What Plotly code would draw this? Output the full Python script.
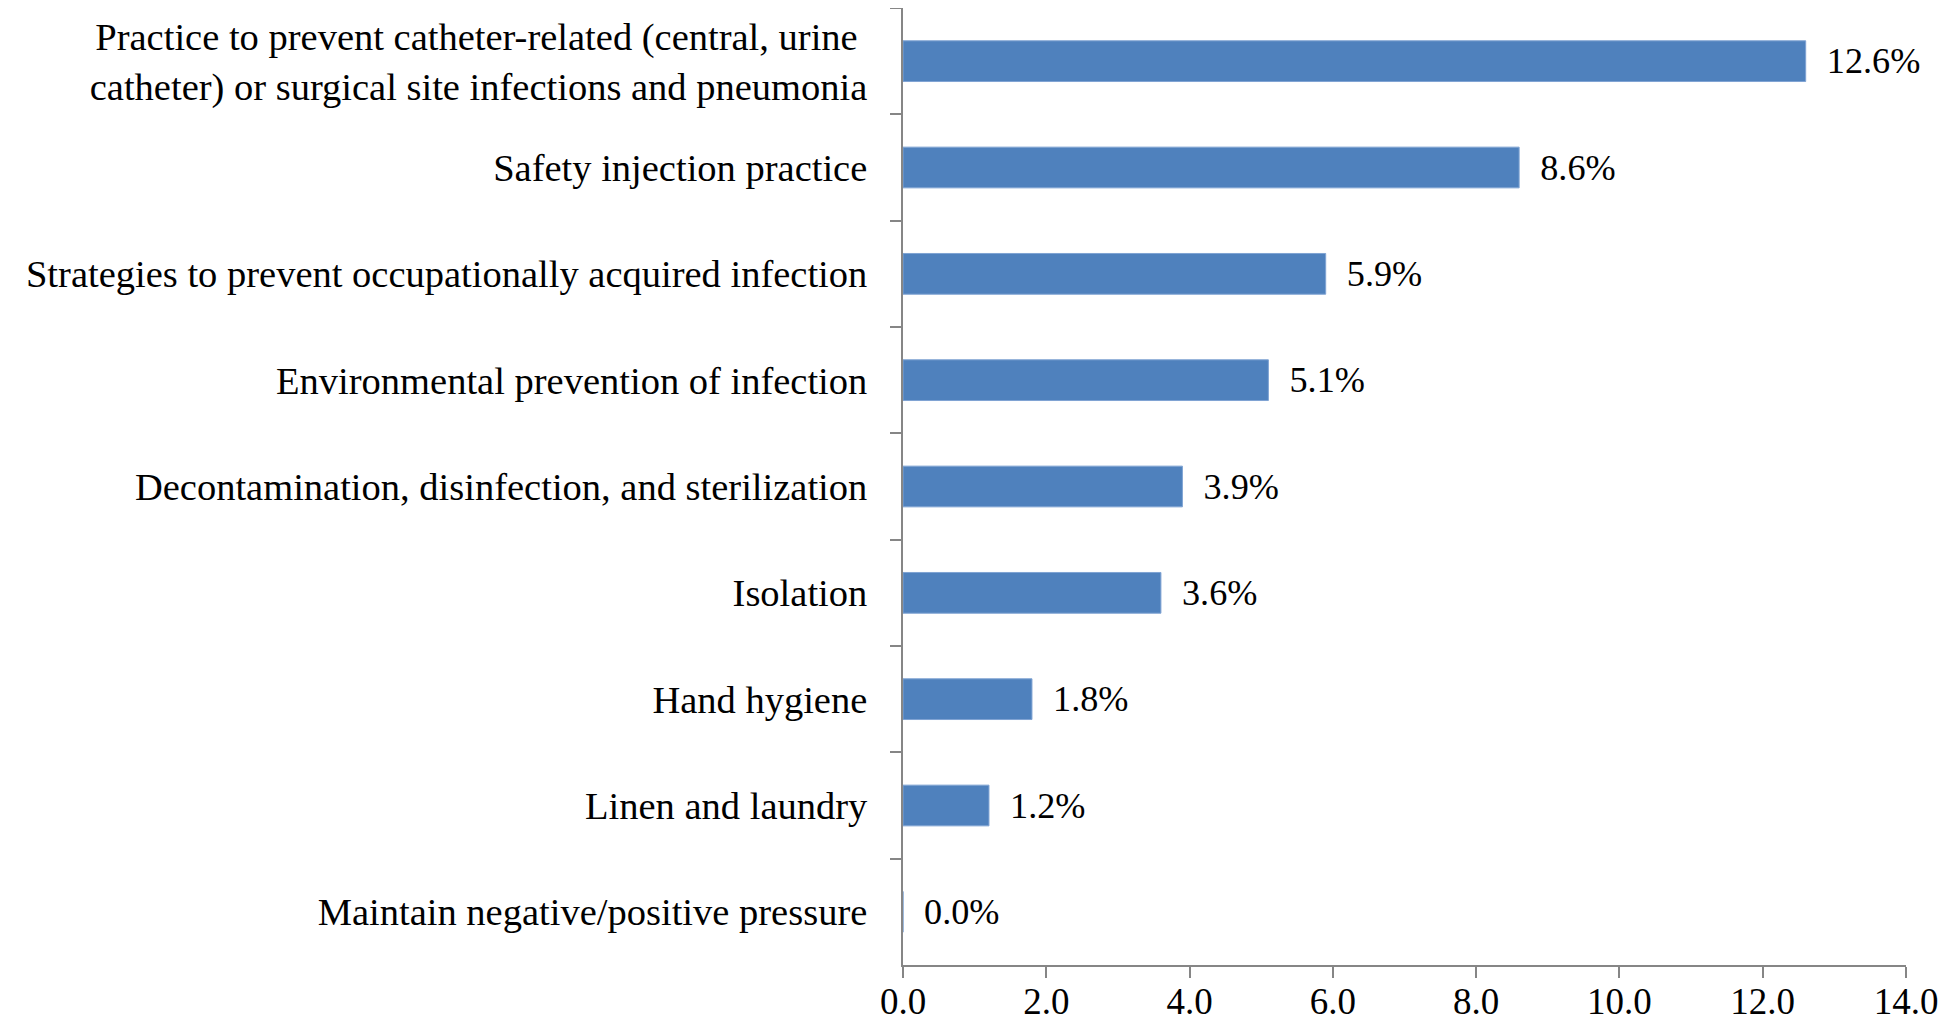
import plotly.graph_objects as go

categories = [
    "Practice to prevent catheter-related (central, urine <br>catheter) or surgical site infections and pneumonia",
    "Safety injection practice",
    "Strategies to prevent occupationally acquired infection",
    "Environmental prevention of infection",
    "Decontamination, disinfection, and sterilization",
    "Isolation",
    "Hand hygiene",
    "Linen and laundry",
    "Maintain negative/positive pressure",
]
values = [12.6, 8.6, 5.9, 5.1, 3.9, 3.6, 1.8, 1.2, 0.0]
x_ticks = [0, 2, 4, 6, 8, 10, 12, 14]

FONT = "Liberation Serif, Times New Roman, serif"
AXIS_COLOR = "#868686"

fig = go.Figure(
    go.Bar(
        x=values,
        y=categories,
        orientation="h",
        marker=dict(color="#4F81BD", line=dict(color="#7FA3D3", width=1)),
        text=[f"{v:.1f}%" for v in values],
        texttemplate="\u00a0\u00a0%{text}",
        textposition="outside",
        textfont=dict(family=FONT, size=40, color="black"),
        cliponaxis=False,
    )
)

# page body has an 8px margin, so the figure is sized to fit the window
fig.update_layout(
    width=1930,
    height=1015,
    margin=dict(l=895, r=32, t=0, b=58),
    paper_bgcolor="white",
    plot_bgcolor="white",
    showlegend=False,
    bargap=0.617,
    font=dict(family=FONT, size=40, color="black"),
)

fig.update_xaxes(
    range=[0, 14],
    tickvals=x_ticks,
    ticktext=[f"{t:.1f}" for t in x_ticks],
    ticklabeloverflow="allow",
    ticklabelstandoff=-8,
    automargin=False,
    showgrid=False,
    zeroline=False,
    showline=True,
    linecolor=AXIS_COLOR,
    linewidth=2,
    ticks="outside",
    ticklen=11,
    tickwidth=2,
    tickcolor=AXIS_COLOR,
    tickfont=dict(family=FONT, size=37, color="black"),
)

fig.update_yaxes(
    categoryorder="array",
    categoryarray=categories,
    autorange="reversed",
    automargin=False,
    ticklabeloverflow="allow",
    showgrid=False,
    zeroline=False,
    showline=True,
    linecolor=AXIS_COLOR,
    linewidth=2,
    ticks="outside",
    tickson="boundaries",
    ticklen=11,
    tickwidth=2,
    tickcolor=AXIS_COLOR,
    ticklabelstandoff=26,
    tickfont=dict(family=FONT, size=38.5, color="black"),
)

fig.write_html("out.html")
